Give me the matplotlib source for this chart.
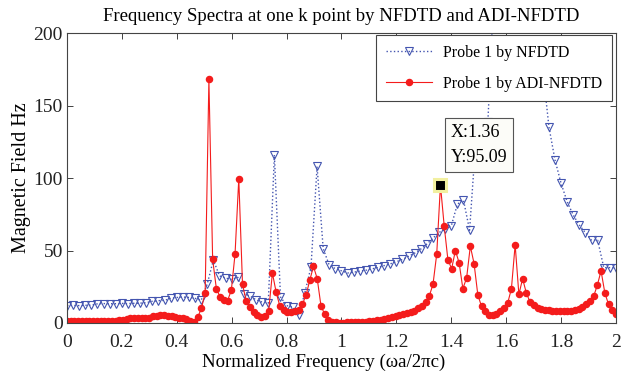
import numpy as np
import matplotlib
matplotlib.use('Agg')
import matplotlib.pyplot as plt

# probe 1, NFDTD (blue triangles), evenly sampled 0..2
nfdtd_y = [12.0, 12.1, 12.0, 12.2, 12.3,
           13.2, 13.4, 13.3, 13.3, 13.5, 13.4, 13.6, 13.7, 14.0,
           15.0, 15.4, 15.6,
           17.0, 17.6, 17.9, 17.6,
           17.0, 15.6, 27.0, 43.5, 32.5, 31.0, 30.0, 31.5, 20.0, 18.6,
           16.0, 14.4, 13.7, 116.0, 18.0, 12.0, 11.0, 5.2, 21.0, 38.6,
           108.0, 51.3, 39.8, 37.5, 36.0, 34.5, 35.0, 35.8, 36.4, 37.3,
           38.3, 39.6, 40.8, 42.3, 43.8, 46.0, 48.2, 51.0, 54.5, 58.5,
           62.5, 64.5, 67.0, 82.0, 84.8, 64.0, 125.0, 132.0, 139.0, 230.0,
           320.0, 450.0, 520.0, 480.0, 380.0, 290.0, 212.0, 175.0, 135.5, 112.5,
           96.3, 83.6, 74.4, 67.5, 62.2, 57.1, 57.1, 38.2, 38.2, 38.2]

# probe 1, ADI-NFDTD (red dots), evenly sampled 0..2
adi_y = [1.6, 1.5, 1.5, 1.4, 1.5, 1.5, 1.6, 1.5, 1.4, 1.5, 1.5, 1.6, 1.6, 1.7, 1.8, 2.0,
         2.8, 3.1, 3.2, 3.3, 3.2, 3.3, 3.5,
         4.6, 5.0, 5.2, 5.2, 5.0, 4.8,
         4.0, 3.6, 3.4,
         2.6, 1.2, 0.4, 4.0, 10.0, 21.0, 168.0, 44.0, 23.6, 18.0,
         15.6, 15.5, 22.5, 47.5, 99.6, 26.6, 15.0, 11.0, 7.5, 5.2,
         4.0, 4.5, 8.2, 34.5, 21.3, 11.6, 9.1, 7.5, 7.5, 8.2,
         9.0, 12.8, 19.0, 29.4, 39.0, 30.6, 12.0, 5.9, 2.2, 0.8, 0.4,
         0.3, 0.3, 0.4, 0.5, 0.6, 0.7, 0.8, 1.0, 1.2, 1.5, 1.8, 2.2, 2.7, 3.2, 3.8,
         4.5, 5.2, 6.0, 6.8, 7.6, 8.6, 10.0, 12.0, 14.8, 18.6, 26.6, 47.5,
         95.09, 67.0, 43.5, 37.5, 50.0, 41.5, 23.7, 31.0, 53.0, 41.0,
         19.5, 11.4, 8.0, 5.7, 5.2, 6.0, 8.6, 10.5, 13.7, 23.6,
         54.0, 19.7, 30.6, 20.6, 14.4, 12.1, 10.5, 9.7,
         9.2, 8.8, 8.5, 8.3, 8.2, 8.2, 8.3, 8.6, 9.0, 9.8, 11.0, 12.8,
         15.0, 18.3, 26.0, 36.0, 21.0, 12.8, 9.1, 6.3]

nfdtd_x = np.linspace(0, 2, len(nfdtd_y))
adi_x = np.linspace(0, 2, len(adi_y))

tip_x = 1.36
tip_y = 95.09

xticks = [0, 0.2, 0.4, 0.6, 0.8, 1, 1.2, 1.4, 1.6, 1.8, 2]
xtick_labels = ['0', '0.2', '0.4', '0.6', '0.8', '1', '1.2', '1.4', '1.6', '1.8', '2']
yticks = [0, 50, 100, 150, 200]

plt.rcParams['font.family'] = ['Liberation Serif', 'DejaVu Serif']

fig = plt.figure(figsize=(6.26, 3.76), dpi=100)
ax = fig.add_axes([0.107, 0.141, 0.877, 0.771])

blue = '#4455b0'
red = '#f41c1c'

ax.plot(nfdtd_x, nfdtd_y, linestyle=':', color=blue, linewidth=1.0,
        marker='v', markersize=6.3, markerfacecolor='none', markeredgecolor=blue,
        markeredgewidth=0.8, label='Probe 1 by NFDTD')
ax.plot(adi_x, adi_y, linestyle='-', color=red, linewidth=0.8,
        marker='o', markersize=4.4, markerfacecolor=red, markeredgecolor=red,
        label='Probe 1 by ADI-NFDTD')

# data tip
ax.plot([tip_x], [tip_y], marker='s', markersize=9, markerfacecolor='black',
        markeredgecolor='#f2f0a0', markeredgewidth=2.2, zorder=6)
ax.text(1.398, 137.5, 'X:%.2f\nY:%.2f' % (tip_x, tip_y), fontsize=13,
        va='top', ha='left', linespacing=1.65, zorder=7,
        bbox=dict(boxstyle='square,pad=0.3', facecolor='#fcfcf8',
                  edgecolor='#555555', linewidth=0.8))

ax.set_xlim(0, 2)
ax.set_ylim(0, 200)
ax.set_xticks(xticks)
ax.set_xticklabels(xtick_labels)
ax.set_yticks(yticks)
ax.tick_params(direction='in', top=True, right=True, labelsize=14,
               length=4, width=0.6, colors='#222222')
ax.tick_params(axis='x', pad=8)
ax.tick_params(axis='y', pad=3)
for s in ax.spines.values():
    s.set_linewidth(0.8)
    s.set_color('#444444')

ax.set_title('Frequency Spectra at one k point by NFDTD and ADI-NFDTD',
             fontsize=13.5, pad=9)
ax.set_xlabel('Normalized Frequency (ωa/2πc)', fontsize=13.5)
ax.xaxis.set_label_coords(0.468, -0.105)
ax.set_ylabel('Magnetic Field Hz', fontsize=14.5, labelpad=2)

leg = ax.legend(loc='upper right', bbox_to_anchor=(0.993, 0.993), fontsize=11.5,
                frameon=True, fancybox=False, framealpha=1, edgecolor='#444444',
                borderpad=0.6, handlelength=2.9, handletextpad=0.7,
                labelspacing=0.95, borderaxespad=0)
leg.get_frame().set_linewidth(0.8)
leg.set_zorder(8)

fig.savefig('out.png', dpi=100)
